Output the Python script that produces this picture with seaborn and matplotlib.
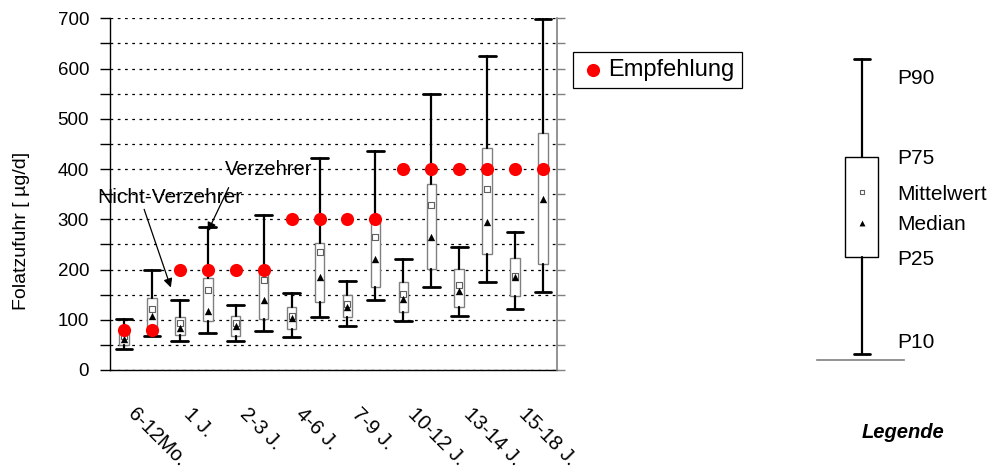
import matplotlib
matplotlib.use("Agg")
import matplotlib.pyplot as plt
import matplotlib.ticker as mticker
import numpy as np
import pandas as pd
import seaborn as sns

# ---------------- data ----------------
categories = ["6-12Mo.", "1 J.", "2-3 J.", "4-6 J.", "7-9 J.", "10-12 J.", "13-14 J.", "15-18 J."]
groups = ["Nicht-Verzehrer", "Verzehrer"]

# Nicht-Verzehrer (first box of each pair)
nv_p10 = [41, 58, 58, 66, 88, 98, 107, 122]
nv_p25 = [50, 70, 68, 81, 106, 115, 126, 147]
nv_median = [62, 84, 88, 103, 126, 141, 158, 186]
nv_mean = [68, 94, 93, 107, 131, 151, 169, 188]
nv_p75 = [80, 106, 108, 126, 149, 176, 201, 222]
nv_p90 = [101, 139, 129, 153, 177, 221, 244, 275]

# Verzehrer (second box of each pair)
v_p10 = [68, 74, 78, 105, 140, 165, 175, 155]
v_p25 = [72, 97, 101, 136, 166, 202, 231, 210]
v_median = [108, 118, 139, 185, 220, 264, 295, 340]
v_mean = [122, 159, 180, 235, 265, 328, 361, 400]
v_p75 = [143, 184, 198, 253, 295, 370, 441, 472]
v_p90 = [199, 285, 309, 421, 435, 549, 624, 699]

# Empfehlung (recommendation) per age group
empfehlung = [80, 200, 200, 300, 300, 400, 400, 400]

yticks = [0, 100, 200, 300, 400, 500, 600, 700]

# schematic legend box values
leg_names = ["P90", "P75", "Mittelwert", "Median", "P25", "P10"]
leg_vals = [300.7, 203.3, 167.7, 137.3, 102.7, 6.0]

# ---------------- table ----------------
rows = []
for ci, cat in enumerate(categories):
    for gi, (grp, src) in enumerate(zip(groups,
                                        [(nv_p10, nv_p25, nv_median, nv_mean, nv_p75, nv_p90),
                                         (v_p10, v_p25, v_median, v_mean, v_p75, v_p90)])):
        rows.append(dict(Altersgruppe=cat, Gruppe=grp, pos=2 * ci + gi,
                         P10=src[0][ci], P25=src[1][ci], Median=src[2][ci],
                         Mittelwert=src[3][ci], P75=src[4][ci], P90=src[5][ci],
                         Empfehlung=empfehlung[ci]))
df = pd.DataFrame(rows)

# ---------------- style ----------------
sns.set_theme(style="white")
plt.rcParams["font.family"] = ["Liberation Sans", "DejaVu Sans"]
for k in ["text.color", "axes.labelcolor", "xtick.color", "ytick.color"]:
    plt.rcParams[k] = "black"

W, H = 995, 472
fig = plt.figure(figsize=(W / 100, H / 100), dpi=100)
ax = fig.add_axes([110 / W, (H - 370) / H, 447 / W, 351.7 / H])

box_edge = "#808080"
stats = [dict(med=r.Median, q1=r.P25, q3=r.P75, whislo=r.P10, whishi=r.P90, fliers=[])
         for r in df.itertuples()]
ax.bxp(stats, positions=df["pos"].tolist(), widths=0.34, capwidths=0.6,
       showfliers=False, patch_artist=True, manage_ticks=False,
       boxprops=dict(facecolor="white", edgecolor=box_edge, linewidth=1.0),
       whiskerprops=dict(color="black", linewidth=1.6),
       capprops=dict(color="black", linewidth=2.0),
       medianprops=dict(visible=False), zorder=3)

sns.scatterplot(data=df, x="pos", y="Mittelwert", marker="s", s=20, color="white",
                edgecolor="#606060", linewidth=0.8, ax=ax, zorder=4, legend=False)
sns.scatterplot(data=df, x="pos", y="Median", marker="^", s=28, color="black",
                edgecolor="black", linewidth=0, ax=ax, zorder=4, legend=False)
sns.scatterplot(data=df, x="pos", y="Empfehlung", marker="o", s=90, color="#ff0000",
                linewidth=0, ax=ax, zorder=5, label="Empfehlung")

ax.set_xlim(-0.5, 15.5)
ax.set_ylim(0, 700)
ax.set_yticks(yticks)
ax.yaxis.set_minor_locator(mticker.MultipleLocator(50))
ax.tick_params(axis="y", which="both", direction="out", length=7, width=1,
               color="black", labelsize=13.5, left=True, pad=8)
ax.set_axisbelow(True)
ax.grid(axis="y", which="both", color="black", linestyle=(0, (2.2, 3.6)), linewidth=0.9)
ax.grid(axis="x", visible=False)

ax.set_xticks([2 * i + 0.5 for i in range(len(categories))])
ax.set_xticklabels(categories, rotation=-45, ha="left", va="top",
                   rotation_mode="anchor", fontsize=14.5)
ax.tick_params(axis="x", length=0, pad=25)
ax.set_xlabel("")
ax.set_ylabel("Folatzufuhr [ µg/d]", fontsize=14)
ax.yaxis.set_label_coords(-0.18, 0.394)

for s in ["top", "right"]:
    ax.spines[s].set_visible(False)
for s in ["left", "bottom"]:
    ax.spines[s].set_color("black")
    ax.spines[s].set_linewidth(1.0)

# right axis ticks
axr = ax.twinx()
axr.set_ylim(0, 700)
axr.set_yticks(np.arange(0, 701, 50))
axr.set_yticklabels([])
axr.tick_params(axis="y", direction="out", length=6, width=1, color=box_edge, right=True)
for s in ["top", "left", "bottom"]:
    axr.spines[s].set_visible(False)
axr.spines["right"].set_color(box_edge)
axr.spines["right"].set_linewidth(1.2)
axr.grid(False)

# annotations
ax.annotate("", xy=(3 - 0.04, v_p90[1] - 14), xytext=(3.79, 368),
            arrowprops=dict(arrowstyle="-|>", color="black", lw=0.9, mutation_scale=13))
ax.text(3.62, 400, "Verzehrer", fontsize=14.5, ha="left", va="center", zorder=6)
ax.annotate("", xy=(1.71, nv_p90[1] + 20), xytext=(0.69, 325),
            arrowprops=dict(arrowstyle="-|>", color="black", lw=0.9, mutation_scale=13))
ax.text(-0.95, 344, "Nicht-Verzehrer", fontsize=15, ha="left", va="center",
        zorder=6, clip_on=False)

leg = ax.legend(loc="upper left", bbox_to_anchor=(573 / W, 1 - 52 / H),
                bbox_transform=fig.transFigure, frameon=True, fancybox=False,
                edgecolor="black", framealpha=1, fontsize=17, handletextpad=0.1,
                borderpad=0.3, handlelength=1.1, borderaxespad=0)
leg.get_frame().set_linewidth(0.9)

# ---------------- schematic legend ----------------
lax = fig.add_axes([816.7 / W, (H - 360) / H, 87.3 / W, 320 / H])
lax.set_xlim(0, 1)
lax.set_ylim(0, 320)
lax.patch.set_visible(False)
for s in ["top", "left", "right"]:
    lax.spines[s].set_visible(False)
lax.spines["bottom"].set_color(box_edge)
lax.spines["bottom"].set_linewidth(1.2)
lax.set_xticks([])
lax.set_yticks([])
lv = dict(zip(leg_names, leg_vals))
lax.bxp([dict(med=lv["Median"], q1=lv["P25"], q3=lv["P75"], whislo=lv["P10"],
              whishi=lv["P90"], fliers=[])],
        positions=[0.515], widths=0.375, capwidths=0.183, showfliers=False,
        patch_artist=True, manage_ticks=False,
        boxprops=dict(facecolor="white", edgecolor="black", linewidth=1.0),
        whiskerprops=dict(color="black", linewidth=1.6),
        capprops=dict(color="black", linewidth=2.0),
        medianprops=dict(visible=False))
sns.scatterplot(x=[0.515], y=[lv["Mittelwert"]], marker="s", s=12, color="white",
                edgecolor="#606060", linewidth=0.8, ax=lax, zorder=4, legend=False)
sns.scatterplot(x=[0.515], y=[lv["Median"]], marker="^", s=18, color="black",
                linewidth=0, ax=lax, zorder=4, legend=False)
label_shift = {"P90": -19, "P10": 12}
for name, val in zip(leg_names, leg_vals):
    lax.text(0.92, val + label_shift.get(name, -2), name, fontsize=15, ha="left",
             va="center", clip_on=False)
fig.text(903 / W, 1 - 433 / H, "Legende", fontsize=14.5, fontweight="bold",
         fontstyle="italic", ha="center", va="center")

fig.savefig("out.png", dpi=100)
